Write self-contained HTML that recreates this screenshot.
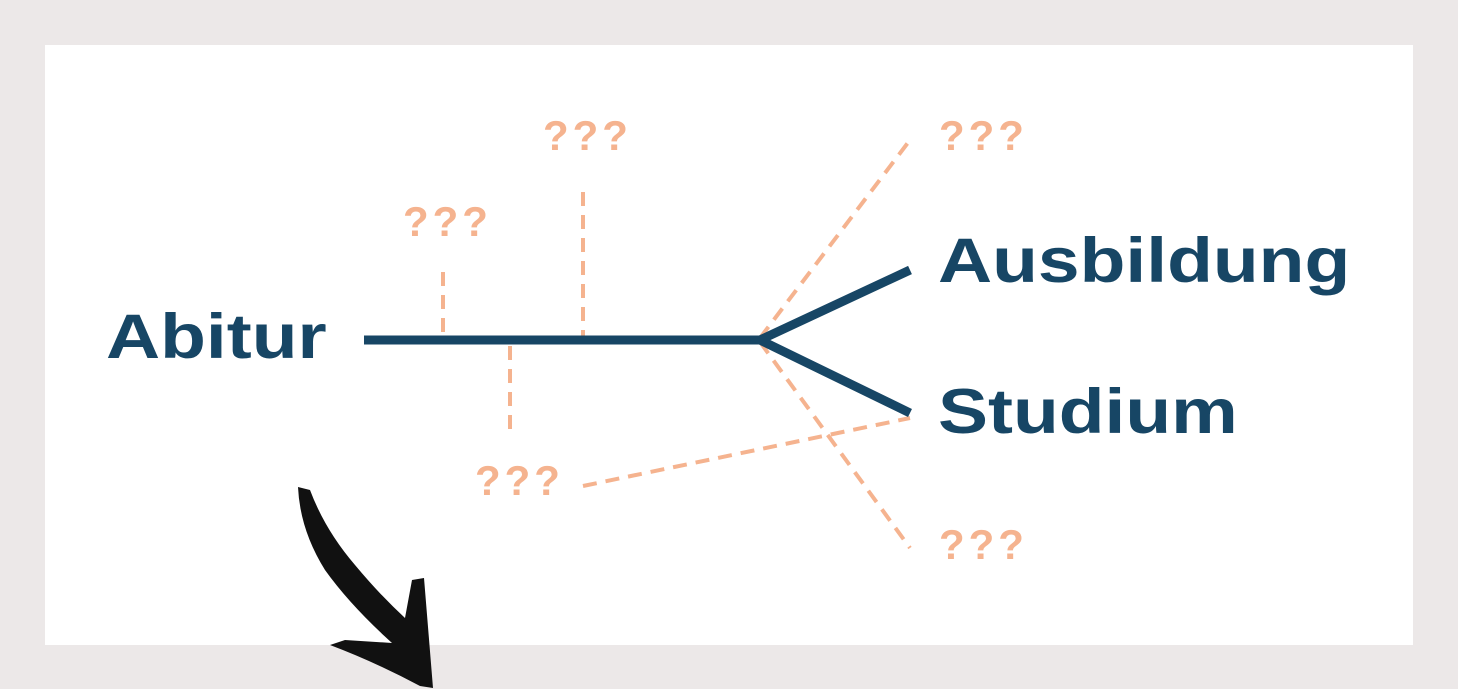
<!DOCTYPE html>
<html><head><style>
body{margin:0;width:1458px;height:689px;background:#ece8e8;overflow:hidden;position:relative;font-family:"Liberation Sans",sans-serif}
.p{position:absolute;left:45px;top:45px;width:1368px;height:600px;background:#fff}
.t{position:absolute;font-weight:bold;color:#174665;white-space:nowrap;line-height:1;transform:scaleX(1.19);transform-origin:0 0}
.q{position:absolute;font-weight:bold;color:#f5b38f;font-size:42px;letter-spacing:4px;line-height:1}
</style></head><body>
<div class="p"></div>
<svg width="1458" height="689" style="position:absolute;left:0;top:0">
<g stroke="#f5b38f" stroke-width="4" stroke-dasharray="14,9" fill="none">
<line x1="443" y1="272" x2="443" y2="336"/>
<line x1="583" y1="192" x2="583" y2="336"/>
<line x1="510" y1="346" x2="510" y2="437"/>
<line x1="583" y1="486" x2="910" y2="418"/>
<line x1="760" y1="338" x2="910" y2="140"/>
<line x1="760" y1="342" x2="910" y2="548"/>
</g>
<g stroke="#174665" stroke-width="9" fill="none" stroke-linecap="butt">
<line x1="364" y1="340" x2="762" y2="340"/>
<polyline points="910,270 760,340 910,413"/>
</g>
<path d="M298,487 L310,490 Q325,530 355,565 Q380,595 405,618 L412,580 L424,578 L433,688 L420,686 Q375,662 330,645 L345,640 L392,643 Q350,605 325,570 Q300,530 298,487 Z" fill="#111"/>
</svg>
<div class="t" style="left:106px;top:306px;font-size:63px">Abitur</div>
<div class="t" style="left:938px;top:230px;font-size:63px">Ausbildung</div>
<div class="t" style="left:938px;top:381px;font-size:63px">Studium</div>
<div class="q" style="left:543px;top:115px">???</div>
<div class="q" style="left:403px;top:201px">???</div>
<div class="q" style="left:939px;top:115px">???</div>
<div class="q" style="left:475px;top:460px">???</div>
<div class="q" style="left:939px;top:524px">???</div>
</body></html>
